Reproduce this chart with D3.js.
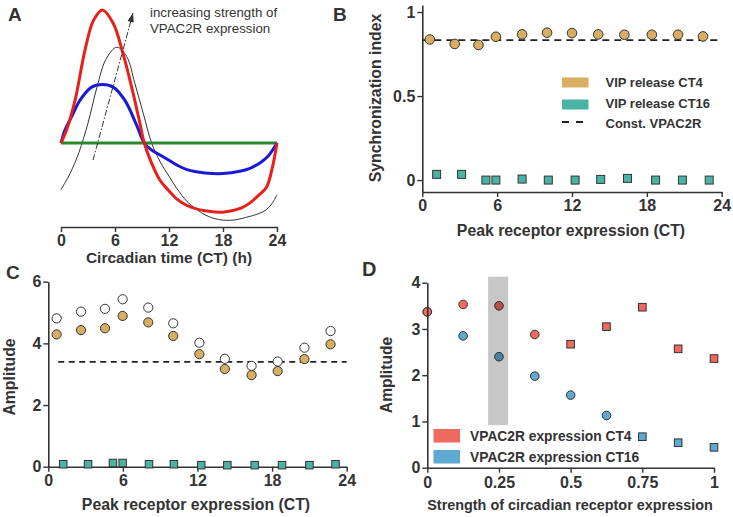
<!DOCTYPE html>
<html><head><meta charset="utf-8">
<script src="https://cdn.jsdelivr.net/npm/d3@7"></script>
<style>
body{margin:0;background:#fff}
svg{display:block}
text{font-family:"Liberation Sans",Arial,Helvetica,sans-serif;fill:#333}
</style>
</head><body>
<svg id="c" width="733" height="517"></svg>
<script>
// ---------------- DATA ----------------
const ctTicks = [0, 6, 12, 18, 24];

// Panel A: receptor expression profiles (CT, relative level)
const redCurveCT   = [0,0.63,1.56,2.67,3.6,4.6,5.8,6.9,7.85,8.7,9.25,10,11,12,12.85,14,16,18,20,21,22,22.85,23.5,24];
const redCurveVal  = [0,0.1,0.32,0.7,0.92,1.0,0.9,0.67,0.42,0.17,0,-0.14,-0.28,-0.36,-0.42,-0.47,-0.51,-0.52,-0.49,-0.45,-0.39,-0.33,-0.18,0];
const blueCurveCT  = [0,0.45,1.2,2.1,3.4,4.6,5.8,7.1,8.4,9.25,10,11,12,12.85,14,16,18,20,21,22.1,23,24];
const blueCurveVal = [0,0.1,0.2,0.32,0.42,0.44,0.42,0.32,0.135,0,-0.05,-0.09,-0.13,-0.165,-0.2,-0.225,-0.23,-0.21,-0.19,-0.15,-0.1,0];
const greenCurveCT  = [0, 24];
const greenCurveVal = [0, 0];
const blackCurveCT  = [0,1,2,3,4,5,6.2,7.3,8.2,9.15,10.07,11,12,12.85,14,14.7,16,17.5,19.1,20.5,22,22.85,23.5,24];
const blackCurveVal = [-0.35,-0.23,-0.07,0.15,0.42,0.63,0.72,0.65,0.45,0.22,0,-0.14,-0.25,-0.34,-0.44,-0.48,-0.54,-0.575,-0.58,-0.56,-0.53,-0.5,-0.45,-0.39];
const annotationLines = ["increasing strength of", "VPAC2R expression"];

// Panel B: synchronization index
const syncTicks = [0, 0.5, 1];
const syncCT4_x  = [0.6,2.6,4.5,5.9,8.0,10.0,12.0,14.1,16.2,18.4,20.5,22.5];
const syncCT4    = [0.837,0.81,0.804,0.853,0.867,0.877,0.875,0.867,0.865,0.865,0.865,0.855];
const syncCT16_x = [1.15,3.15,5.1,5.9,8.0,10.1,12.25,14.3,16.45,18.7,20.85,23.0];
const syncCT16   = [0.034,0.034,0,0,0.006,0,0,0.004,0.01,0,0,0];
const syncConst  = 0.833;
const legendB    = ["VIP release CT4", "VIP release CT16", "Const. VPAC2R"];

// Panel C: amplitude vs peak receptor expression
const ampTicksC   = [0, 2, 4, 6];
const ampCT4_x    = [0.67,2.63,4.56,5.98,8.04,10.05,12.15,14.2,16.35,18.45,20.6,22.7];
const ampOpen     = [4.81,5.03,5.12,5.43,5.16,4.65,4.02,3.50,3.27,3.41,3.86,4.40];
const ampCT4      = [4.29,4.43,4.49,4.89,4.68,4.24,3.65,3.17,2.97,3.10,3.49,3.97];
const ampCT16_x   = [1.2,3.2,5.2,5.98,8.1,10.1,12.3,14.4,16.6,18.8,21.0,23.1];
const ampCT16     = [0.08,0.08,0.12,0.12,0.08,0.08,0.05,0.05,0.05,0.05,0.05,0.08];
const ampConst    = 3.4;

// Panel D: amplitude vs strength of circadian receptor expression
const strengthTicks  = [0, 0.25, 0.5, 0.75, 1];
const strengthLabels = ["0", "0.25", "0.5", "0.75", "1"];
const ampTicksD      = [0, 1, 2, 3, 4];
const strength       = [0, 0.125, 0.25, 0.375, 0.5, 0.625, 0.75, 0.875, 1];
const ampD_CT4       = [3.37, 3.53, 3.50, 2.88, 2.67, 3.05, 3.47, 2.57, 2.36];
const shapeD_CT4     = ["c","c","c","c","s","s","s","s","s"];
const ampD_CT16      = [3.37, 2.85, 2.40, 1.98, 1.57, 1.13, 0.67, 0.54, 0.44];
const shapeD_CT16    = ["c","c","c","c","c","c","s","s","s"];
const bandStrength   = [0.212, 0.282];
const bandAmp        = [0.92, 4.13];
const legendD        = ["VPAC2R expression CT4", "VPAC2R expression CT16"];

// ---------------- STYLE ----------------
const C = {
  red:"#e8201c", blue:"#1a1ad6", green:"#2a8a2a", thin:"#333",
  gold:"#d8ae62", teal:"#4bb3a4", dRed:"#ef6a5e", dBlue:"#5ea8d2",
  ink:"#333", stroke:"#333"
};
const svg = d3.select("#c");

function styleAxis(g, fs){
  g.select(".domain").attr("stroke", C.ink).attr("stroke-width", 1.6);
  g.selectAll(".tick line").attr("stroke", C.ink).attr("stroke-width", 1.4);
  g.selectAll(".tick text").attr("fill", C.ink).attr("font-size", fs||16)
   .attr("font-weight","bold").attr("font-family",'"Liberation Sans",Arial,sans-serif');
}
function label(x, y, txt, opt){
  opt = opt||{};
  const t = svg.append("text").attr("x", x).attr("y", y).text(txt)
    .attr("font-size", opt.size||16).attr("font-weight", opt.weight||"bold")
    .attr("text-anchor", opt.anchor||"middle");
  if (opt.rotate) t.attr("transform", `rotate(-90,${x},${y})`);
  return t;
}
function squareAt(g, cx, cy, s, fill){
  g.append("rect").attr("x", cx - s/2).attr("y", cy - s/2).attr("width", s).attr("height", s)
   .attr("fill", fill).attr("stroke", C.stroke).attr("stroke-width", 1);
}
function circleAt(g, cx, cy, r, fill){
  g.append("circle").attr("cx", cx).attr("cy", cy).attr("r", r)
   .attr("fill", fill).attr("stroke", C.stroke).attr("stroke-width", 1);
}
const fmt = d3.format("~g");

// ---------------- PANEL A ----------------
{
  const x = d3.scaleLinear().domain([0,24]).range([61,277]);
  const y = d3.scaleLinear().domain([0,1]).range([143,10]);
  const g = svg.append("g");
  const line = d3.line().x(d=>x(d[0])).y(d=>y(d[1])).curve(d3.curveCatmullRom.alpha(0.5));
  const zip = (a,b)=>a.map((v,i)=>[v,b[i]]);
  g.append("path").attr("d", line(zip(blackCurveCT,blackCurveVal))).attr("fill","none").attr("stroke",C.thin).attr("stroke-width",1);
  g.append("path").attr("d", line(zip(greenCurveCT,greenCurveVal))).attr("fill","none").attr("stroke",C.green).attr("stroke-width",3);
  g.append("path").attr("d", line(zip(blueCurveCT,blueCurveVal))).attr("fill","none").attr("stroke",C.blue).attr("stroke-width",3);
  g.append("path").attr("d", line(zip(redCurveCT,redCurveVal))).attr("fill","none").attr("stroke",C.red).attr("stroke-width",3);

  // arrow
  const x0=x(3.56), y0=y(-0.128), x1=x(8.0), y1=y(0.977);
  g.append("line").attr("x1",x0).attr("y1",y0).attr("x2",x1).attr("y2",y1)
    .attr("stroke","#333").attr("stroke-width",1).attr("stroke-dasharray","6,2,1.5,2");
  const ang = Math.atan2(y1-y0, x1-x0);
  const L=9, W=3.2;
  const bx = x1 - L*Math.cos(ang), by = y1 - L*Math.sin(ang);
  const px = -Math.sin(ang), py = Math.cos(ang);
  g.append("path").attr("d", `M${x1},${y1}L${bx+W*px},${by+W*py}L${bx-W*px},${by-W*py}Z`).attr("fill","#333");

  annotationLines.forEach((t,i)=>{
    label(150, 17 + i*16, t, {size:13.3, weight:"normal", anchor:"start"}).attr("fill","#444");
  });

  const ax = svg.append("g").attr("transform","translate(0,227)")
    .call(d3.axisBottom(x).tickValues(ctTicks).tickSize(5).tickSizeOuter(0).tickPadding(3));
  styleAxis(ax);
  label(169, 263, "Circadian time (CT) (h)", {size:15.5});
  label(8, 21, "A", {size:19, anchor:"start"});
}

// ---------------- PANEL B ----------------
{
  const x = d3.scaleLinear().domain([0,24]).range([422.3,721.7]);
  const y = d3.scaleLinear().domain([-0.071,1.042]).range([192,5]);
  const g = svg.append("g");
  g.append("line").attr("x1",x(0)).attr("x2",x(24)).attr("y1",y(syncConst)).attr("y2",y(syncConst))
    .attr("stroke","#222").attr("stroke-width",1.8).attr("stroke-dasharray","7,5");
  syncCT4_x.forEach((v,i)=>circleAt(g, x(v), y(syncCT4[i]), 4.8, C.gold));
  syncCT16_x.forEach((v,i)=>squareAt(g, x(v), y(syncCT16[i]), 8, C.teal));

  const ay = svg.append("g").attr("transform",`translate(${x(0)},0)`)
    .call(d3.axisLeft(y).tickValues(syncTicks).tickFormat(fmt).tickSize(5).tickSizeOuter(0).tickPadding(2));
  styleAxis(ay);
  const ax = svg.append("g").attr("transform",`translate(0,${y(-0.071)})`)
    .call(d3.axisBottom(x).tickValues(ctTicks).tickFormat(fmt).tickSize(5).tickSizeOuter(0).tickPadding(3));
  styleAxis(ax);
  label(571, 236, "Peak receptor expression (CT)", {size:15.8});
  label(381, 98, "Synchronization index", {size:15.8, rotate:true});
  label(333, 21, "B", {size:19, anchor:"start"});

  // legend
  g.append("rect").attr("x",562).attr("y",77.5).attr("width",26.5).attr("height",10).attr("fill",C.gold);
  g.append("rect").attr("x",562).attr("y",99.5).attr("width",26.5).attr("height",10).attr("fill",C.teal);
  g.append("line").attr("x1",562).attr("x2",583).attr("y1",122).attr("y2",122)
    .attr("stroke","#222").attr("stroke-width",2.2).attr("stroke-dasharray","7,7");
  legendB.forEach((t,i)=>label(605.5, 87.3 + i*20.5, t, {size:13, anchor:"start"}));
}

// ---------------- PANEL C ----------------
{
  const x = d3.scaleLinear().domain([0,24]).range([48.3,346.7]);
  const y = d3.scaleLinear().domain([0,6]).range([466.7,281.7]);
  const g = svg.append("g");
  g.append("line").attr("x1",x(0.8)).attr("x2",x(24)).attr("y1",y(ampConst)).attr("y2",y(ampConst))
    .attr("stroke","#222").attr("stroke-width",1.6).attr("stroke-dasharray","6,4.5");
  ampCT4_x.forEach((v,i)=>circleAt(g, x(v), y(ampOpen[i]), 4.6, "#fff"));
  ampCT4_x.forEach((v,i)=>circleAt(g, x(v), y(ampCT4[i]), 4.6, C.gold));

  const ay = svg.append("g").attr("transform",`translate(${x(0)},0)`)
    .call(d3.axisLeft(y).tickValues(ampTicksC).tickFormat(fmt).tickSize(5).tickSizeOuter(0).tickPadding(2));
  styleAxis(ay);
  const ax = svg.append("g").attr("transform",`translate(0,${y(0)})`)
    .call(d3.axisBottom(x).tickValues(ctTicks).tickFormat(fmt).tickSize(5).tickSizeOuter(0).tickPadding(3));
  styleAxis(ax);
  const gs = svg.append("g");
  ampCT16_x.forEach((v,i)=>squareAt(gs, x(v), y(ampCT16[i]), 7.5, C.teal));
  label(196, 510, "Peak receptor expression (CT)", {size:15.8});
  label(15, 377, "Amplitude", {size:15.8, rotate:true});
  label(6, 279, "C", {size:19, anchor:"start"});
}

// ---------------- PANEL D ----------------
{
  const x = d3.scaleLinear().domain([0,1]).range([427.3,714]);
  const y = d3.scaleLinear().domain([0,4]).range([467.7,282.7]);
  const g = svg.append("g");
  const draw = (vals, shapes, fill)=>{
    strength.forEach((s,i)=>{
      if (shapes[i]==="c") circleAt(g, x(s), y(vals[i]), 4.3, fill);
      else squareAt(g, x(s), y(vals[i]), 7.6, fill);
    });
  };
  draw(ampD_CT16, shapeD_CT16, C.dBlue);
  draw(ampD_CT4, shapeD_CT4, C.dRed);
  g.append("rect").attr("x",x(bandStrength[0])).attr("width",x(bandStrength[1])-x(bandStrength[0]))
    .attr("y",y(bandAmp[1])).attr("height",y(bandAmp[0])-y(bandAmp[1]))
    .attr("fill","#000").attr("fill-opacity",0.22);

  const ay = svg.append("g").attr("transform",`translate(${x(0)},0)`)
    .call(d3.axisLeft(y).tickValues(ampTicksD).tickFormat(fmt).tickSize(5).tickSizeOuter(0).tickPadding(2));
  styleAxis(ay);
  const ax = svg.append("g").attr("transform",`translate(0,${y(0)})`)
    .call(d3.axisBottom(x).tickValues(strengthTicks).tickFormat((d,i)=>strengthLabels[i]).tickSize(5).tickSizeOuter(0).tickPadding(4));
  styleAxis(ax);
  label(570, 510, "Strength of circadian receptor expression", {size:14.4});
  label(392, 375, "Amplitude", {size:15.6, rotate:true});
  label(362, 276, "D", {size:20, anchor:"start"});

  g.append("rect").attr("x",433.5).attr("y",429).attr("width",26.5).attr("height",13.5).attr("fill",C.dRed);
  g.append("rect").attr("x",433.5).attr("y",450).attr("width",26.5).attr("height",13.5).attr("fill",C.dBlue);
  legendD.forEach((t,i)=>label(470, 441 + i*21, t, {size:13.8, anchor:"start"}));
}
</script>
</body></html>
